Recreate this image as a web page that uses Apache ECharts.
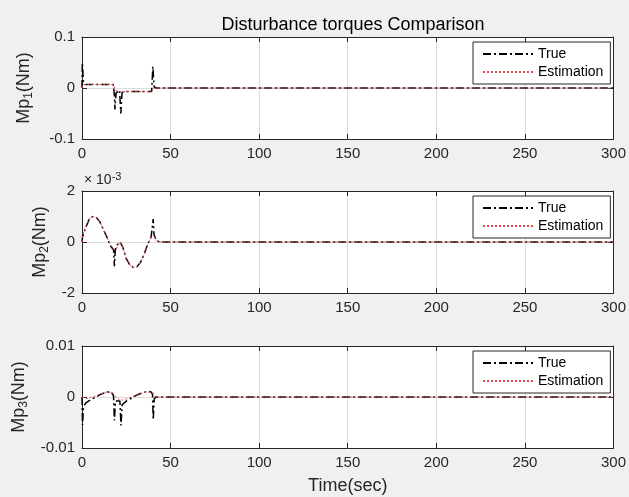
<!DOCTYPE html>
<html>
<head>
<meta charset="utf-8">
<script src="https://cdn.jsdelivr.net/npm/echarts@6/dist/echarts.min.js"></script>
<style>
  html, body { margin: 0; padding: 0; background: #f0f0f0; }
  #chart { width: 629px; height: 497px; }
</style>
</head>
<body>
<div id="chart"></div>
<script>
// values: [time (sec), torque]
const mp1True = [[0,0],[0.2,0.05],[0.8,0.012],[2,0.007],[17.6,0.007],[18.2,-0.01],[18.6,-0.042],[19.2,-0.01],[21.2,-0.004],[21.9,-0.05],[22.6,-0.009],[24,-0.007],[39.3,-0.007],[40,0.042],[40.7,0.002],[42,0],[300,0]];
const mp1Est = [[0,0],[0.6,0.007],[17.6,0.007],[19,-0.004],[20.5,-0.007],[39.3,-0.007],[41,0],[300,0]];

// panel 2 is plotted in units of 1e-3 (like the "x10^-3" axis multiplier)
const mp2True = [[0,0],[0.3,0.2],[1,0.35],[2,0.55],[4,0.88],[6,1.0],[8,0.97],[10,0.8],[12,0.5],[14,0.2],[16,-0.15],[17.8,-0.3],[18.3,-0.95],[18.8,-0.3],[20,-0.1],[21.5,0],[23,-0.2],[25,-0.65],[27,-0.9],[29,-1.0],[31,-0.97],[33,-0.8],[35,-0.5],[37,-0.1],[39,0.2],[39.8,0.25],[40.2,0.9],[40.6,0.3],[42,0.05],[44,0],[300,0]];
const mp2Est = [[0,0],[0.5,0.3],[2,0.6],[4,0.9],[6,1.0],[8,0.97],[10,0.8],[12,0.5],[14,0.2],[16,-0.1],[18,-0.3],[19.5,-0.25],[21.5,0],[23,-0.2],[25,-0.65],[27,-0.9],[29,-1.0],[31,-0.97],[33,-0.8],[35,-0.5],[37,-0.1],[39,0.2],[40.5,0.3],[42,0.05],[44,0],[300,0]];

const mp3True = [[0,0],[0.3,-0.0055],[0.8,-0.002],[2,-0.0012],[5,-0.0005],[8,0],[11,0.0006],[14,0.001],[16.5,0.001],[17.8,0.0002],[18.3,-0.0046],[18.9,-0.0008],[20,-0.001],[21.4,-0.0008],[22,-0.0056],[22.7,-0.0015],[25,-0.0008],[28,-0.0002],[31,0.0004],[34,0.0008],[37,0.0011],[39,0.001],[39.8,0.0005],[40.2,-0.0045],[40.8,-0.0003],[42,0],[300,0]];
const mp3Est = [[0,0],[3,-0.0003],[6,0],[10,0.0005],[14,0.001],[17,0.0009],[19,0],[21,-0.0005],[23,-0.0006],[26,-0.0003],[30,0.0003],[34,0.0008],[38,0.001],[40,0.0008],[41.5,0],[300,0]];

const yNames = ['{a|Mp}{s|1}{a|(Nm)}', '{a|Mp}{s|2}{a|(Nm)}', '{a|Mp}{s|3}{a|(Nm)}'];
const yLimits = [[-0.1, 0.1, 0.1], [-2, 2, 2], [-0.01, 0.01, 0.01]];
const seriesData = [[mp1True, mp1Est], [mp2True, mp2Est], [mp3True, mp3Est]];

const FONT = 'Liberation Sans';
const INK = '#262626';
const tops = [37, 191, 346];
const nameGaps = [47, 31, 31];

let myChart = echarts.init(document.getElementById('chart'), null, { renderer: 'canvas' });

const grid = [], xAxis = [], yAxis = [], series = [], legend = [];
tops.forEach((top, i) => {
  grid.push({ left: 82, top: top, width: 533, height: 102, show: true, backgroundColor: '#fff', borderWidth: 0 });
  const axisLine = { show: true, onZero: false, lineStyle: { color: INK, width: 1 } };
  const tick = { show: true, inside: true, length: 5, lineStyle: { color: INK } };
  xAxis.push({
    type: 'value', gridIndex: i, min: 0, max: 300, interval: 50, position: 'bottom',
    axisLine, axisTick: tick,
    axisLabel: { color: INK, fontSize: 15, fontFamily: FONT, margin: 7 },
    splitLine: { show: true, lineStyle: { color: '#dcdcdc' } },
    name: i === 2 ? 'Time(sec)' : '', nameLocation: 'middle', nameGap: 29,
    nameTextStyle: { color: INK, fontSize: 18, fontFamily: FONT }
  });
  xAxis.push({
    type: 'value', gridIndex: i, min: 0, max: 300, interval: 50, position: 'top',
    axisLine, axisTick: tick, axisLabel: { show: false }, splitLine: { show: false }
  });
  const [lo, hi, step] = yLimits[i];
  yAxis.push({
    type: 'value', gridIndex: i, min: lo, max: hi, interval: step, position: 'left',
    axisLine, axisTick: tick,
    axisLabel: { color: INK, fontSize: 15, fontFamily: FONT, margin: 7 },
    splitLine: { show: true, lineStyle: { color: '#dcdcdc' } },
    name: yNames[i], nameLocation: 'middle', nameGap: nameGaps[i], nameRotate: 90,
    nameTextStyle: {
      color: INK, fontFamily: FONT,
      rich: {
        a: { fontSize: 18, fontFamily: FONT, color: INK },
        s: { fontSize: 12, fontFamily: FONT, color: INK, padding: [10, 0, 0, 0] }
      }
    }
  });
  yAxis.push({
    type: 'value', gridIndex: i, min: lo, max: hi, interval: step, position: 'right',
    axisLine, axisTick: tick, axisLabel: { show: false }, splitLine: { show: false }
  });
  series.push({
    name: 'True', type: 'line', xAxisIndex: 2 * i, yAxisIndex: 2 * i,
    data: seriesData[i][0], symbol: 'none', animation: false,
    itemStyle: { color: '#000' },
    lineStyle: { color: '#000', width: 1.5, type: [8, 3, 2, 3] }
  });
  series.push({
    name: 'Estimation', type: 'line', xAxisIndex: 2 * i, yAxisIndex: 2 * i,
    data: seriesData[i][1], symbol: 'none', animation: false,
    itemStyle: { color: '#ee4450' },
    lineStyle: { color: '#ee4450', width: 1, type: [2, 2] }
  });
  legend.push({
    left: 473, top: top + 5, orient: 'vertical', data: ['True', 'Estimation'],
    backgroundColor: '#fff', borderColor: INK, borderWidth: 1, borderRadius: 0,
    padding: [5, 7, 5, 9], itemGap: 4, itemWidth: 50, itemHeight: 14,
    itemStyle: { opacity: 0 },
    textStyle: { color: '#000', fontSize: 14, fontFamily: FONT },
    selectedMode: false
  });
});

const option = {
  backgroundColor: '#f0f0f0',
  animation: false,
  title: {
    text: 'Disturbance torques Comparison', left: 348, top: 11, textAlign: 'center',
    textStyle: { color: '#000', fontSize: 18, fontWeight: 'normal', fontFamily: FONT }
  },
  graphic: [{
    type: 'text', left: 84, top: 171,
    style: {
      text: '{a|× 10}{s|-3}', fill: INK,
      rich: {
        a: { fontSize: 14, fontFamily: FONT, fill: INK },
        s: { fontSize: 11, fontFamily: FONT, fill: INK, padding: [0, 0, 8, 0] }
      }
    }
  }],
  grid, xAxis, yAxis, series, legend
};

myChart.setOption(option);
</script>
</body>
</html>
